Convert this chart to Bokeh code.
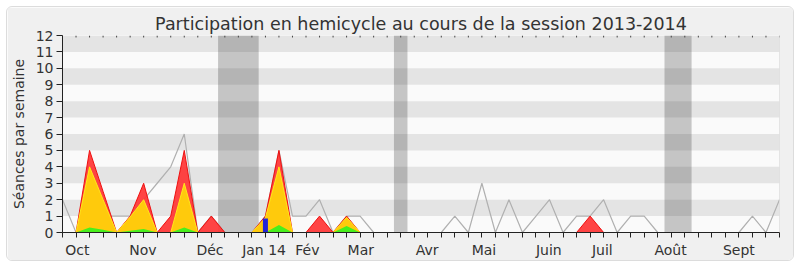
from bokeh.plotting import figure
from bokeh.models import FixedTicker, Span, Range1d
from bokeh.embed import file_html
from bokeh.resources import INLINE

# Weekly series for the 2013-2014 session (week 0 = last week of September)
semaines = list(range(54))
seances = [2, 0, 1, 1, 1, 1, 2, 3, 4, 6, 0, 1, 0, 0, 0, 1, 5, 1, 1, 2,
           0, 1, 1, 0, 0, 0, 0, 0, 0, 1, 0, 3, 0, 2, 0, 1, 2, 0, 1, 1,
           2, 0, 1, 1, 0, 0, 0, 0, 0, 0, 0, 1, 0, 2]
presences = [0, 0, 5, 2.5, 0, 1, 3, 0, 1, 5, 0, 1, 0, 0, 0, 1, 5, 0, 0, 1,
             0, 1, 0, 0, 0, 0, 0, 0, 0, 0, 0, 0, 0, 0, 0, 0, 0, 0, 0, 1,
             0, 0, 0, 0, 0, 0, 0, 0, 0, 0, 0, 0, 0, 0]
interventions_longues = [0, 0, 4, 2, 0, 0.95, 2, 0, 0, 3, 0, 0, 0, 0, 0, 0.9, 4, 0, 0, 0,
                         0, 0.92, 0, 0, 0, 0, 0, 0, 0, 0, 0, 0, 0, 0, 0, 0, 0, 0, 0, 0,
                         0, 0, 0, 0, 0, 0, 0, 0, 0, 0, 0, 0, 0, 0]
interventions_courtes = [0, 0, 0.3, 0.16, 0, 0.1, 0.22, 0, 0, 0.3, 0, 0, 0, 0, 0, 0, 0.45, 0, 0, 0,
                         0, 0.4, 0, 0, 0, 0, 0, 0, 0, 0, 0, 0, 0, 0, 0, 0, 0, 0, 0, 0,
                         0, 0, 0, 0, 0, 0, 0, 0, 0, 0, 0, 0, 0, 0]
questions_semaines = [15]
questions_orales = [0.85]

# Parliamentary recess periods (in weeks)
vacances_debut = [11.5, 24.5, 44.5]
vacances_fin = [14.5, 25.5, 46.5]

mois = ["Oct", "Nov", "Déc", "Jan 14", "Fév", "Mar", "Avr", "Mai", "Juin", "Juil", "Août", "Sept"]
mois_pos = [1.1, 5.95, 10.9, 14.9, 18.1, 22.05, 26.95, 31.15, 35.95, 39.9, 44.95, 50.0]

FONT = "DejaVu Sans"
TXT = "#333333"

p = figure(width=788, height=255, margin=(6, 6, 6, 6),
           output_backend="svg", toolbar_location=None,
           x_range=Range1d(0, 53), y_range=Range1d(0, 12),
           min_border_left=54, min_border_right=16,
           min_border_top=28, min_border_bottom=30,
           title="Participation en hemicycle au cours de la session 2013-2014")
p.styles = {"border": "1px solid #dcdcdc", "border-radius": "6px", "overflow": "hidden"}
p.border_fill_color = "#f0f0f0"
p.background_fill_color = "#fafafa"
p.outline_line_color = None

p.title.align = "center"
p.title.text_font = FONT
p.title.text_font_size = "17.5px"
p.title.text_font_style = "normal"
p.title.text_color = TXT
p.title.standoff = 4

# alternating horizontal bands
p.xgrid.grid_line_color = None
p.ygrid.grid_line_color = None
p.ygrid.band_fill_color = "#e4e4e4"
p.ygrid.band_fill_alpha = 1.0

# recess shading
p.quad(left=vacances_debut, right=vacances_fin, bottom=0, top=12,
       fill_color="#1e1e1e", fill_alpha=0.24, line_color=None)

# sittings held each week
p.line(semaines, seances, line_color="#b0b0b0", line_width=1.2)

# presence / interventions areas
p.varea(x=semaines, y1=0, y2=presences, fill_color="#ff3434", fill_alpha=0.92)
p.line(semaines, presences, line_color="#ee1010", line_width=1)
p.varea(x=semaines, y1=0, y2=interventions_longues, fill_color="#ffd20a", fill_alpha=0.95)
p.line(semaines, interventions_longues, line_color="#ffe81a", line_width=1)
p.varea(x=semaines, y1=0, y2=interventions_courtes, fill_color="#3ef01e", fill_alpha=0.95)
p.vbar(x=questions_semaines, top=questions_orales, width=0.37,
       fill_color="#2424d8", line_color=None)

# small marks along the top edge, one per week
p.segment(x0=semaines, y0=12, x1=semaines, y1=11.88, line_color="#444444", line_width=1)
p.add_layout(Span(location=53, dimension="height", line_color="#d0d0d0", line_width=1))

# x axis: weekly minor ticks, month names
xa = p.xaxis[0]
xa.ticker = FixedTicker(ticks=mois_pos, minor_ticks=semaines)
xa.major_label_overrides = {pos: lab for pos, lab in zip(mois_pos, mois)}
xa.major_tick_out = 0
xa.major_tick_in = 0
xa.minor_tick_out = 5
xa.minor_tick_in = 0
xa.minor_tick_line_color = "#222222"
xa.axis_line_color = "#222222"
xa.major_label_text_font = FONT
xa.major_label_text_font_size = "14px"
xa.major_label_text_color = TXT
xa.major_label_standoff = 4

ya = p.yaxis[0]
ya.ticker = FixedTicker(ticks=list(range(13)))
ya.major_tick_out = 6
ya.major_tick_in = 0
ya.minor_tick_line_color = None
ya.axis_line_color = "#222222"
ya.major_tick_line_color = "#222222"
ya.major_label_text_font = FONT
ya.major_label_text_font_size = "14px"
ya.major_label_text_color = TXT
ya.major_label_standoff = 3
ya.axis_label = "Séances par semaine"
ya.axis_label_text_font = FONT
ya.axis_label_text_font_size = "14px"
ya.axis_label_text_font_style = "normal"
ya.axis_label_text_color = TXT
ya.axis_label_standoff = 6

open("out.html", "w").write(file_html(p, INLINE))
